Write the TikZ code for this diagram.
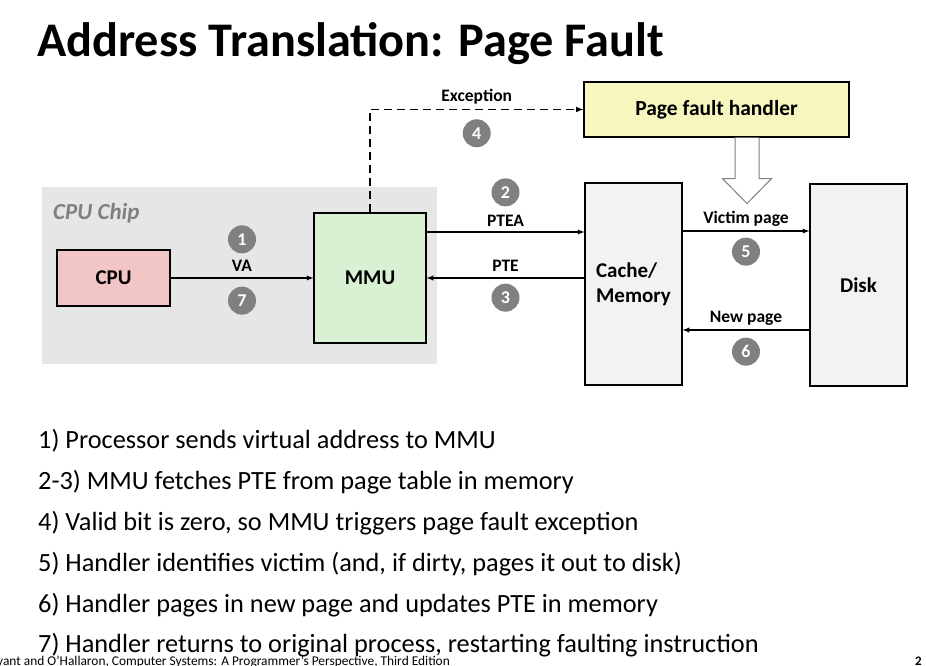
\documentclass[tikz,border=0pt]{standalone}
\usepackage{fontspec}
\setmainfont{Carlito}
\usetikzlibrary{arrows,positioning,shapes}

\definecolor{chipgray}{HTML}{E6E6E6}
\definecolor{cpupink}{HTML}{F2C6C6}
\definecolor{mmugreen}{HTML}{D8F1D2}
\definecolor{memgray}{HTML}{F2F2F2}
\definecolor{handleryellow}{HTML}{F8F6BF}
\definecolor{numgray}{HTML}{808080}

\begin{document}
\begin{tikzpicture}[x=1pt,y=-1pt,
            box/.style={draw,rectangle,line width=1.1pt,inner sep=0pt,align=center,font=\bfseries\fontsize{21}{25}\selectfont},
            lab/.style={inner sep=0pt,text depth=0pt,font=\bfseries\fontsize{17.5}{20}\selectfont},
            num/.style={circle,fill=numgray,text=white,inner sep=0pt,minimum size=28pt,font=\bfseries\fontsize{18}{20}\selectfont},
            item/.style={anchor=base west,inner sep=0pt,font=\fontsize{26.3}{30}\selectfont},
            conn/.style={draw,->,line width=1.3pt,>=latex},
            dashconn/.style={conn,dash pattern=on 8pt off 5pt,line width=1.5pt}
          ]
          \useasboundingbox[fill=white] (0,0) rectangle (926,666);

          %title
          \node[anchor=base west,inner sep=0pt,font=\bfseries\fontsize{48.3}{56}\selectfont] (title) at (37,57) {Address Translation: Page Fault};

          %cpu chip
          \node[rectangle,fill=chipgray,minimum width=395pt,minimum height=177pt] (chip) at (239.5,275.5) {};
          \node[anchor=base west,inner sep=0pt,text=numgray,font=\bfseries\itshape\fontsize{23}{26}\selectfont] (chiplab) at (53,219) {CPU Chip};
          \node[box,fill=cpupink,minimum width=113pt,minimum height=56pt] (cpu) at (113.5,278) {CPU};
          \node[box,fill=mmugreen,minimum width=112pt,minimum height=130pt] (mmu) at (370,278) {MMU};

          %memory, disk, handler
          \node[box,fill=memgray,minimum width=97pt,minimum height=202pt,align=left] (cache) at (633.5,284) {Cache/\\Memory};
          \node[box,fill=memgray,minimum width=97pt,minimum height=202pt] (disk) at (858.5,285) {Disk};
          \node[box,fill=handleryellow,minimum width=265pt,minimum height=55pt,font=\bfseries\fontsize{21.5}{24}\selectfont] (handler) at (716.5,109.5) {Page fault handler};

          %hollow arrow
          \coordinate (flow) at ([xshift=30.5pt]handler.south);
          \draw[numgray,fill=white,line width=1pt,line join=miter] (flow) ++(-12,0) -- ++(0,41) -- ++(-12.5,0) -- ++(24.5,25) -- ++(24.5,-25) -- ++(-12.5,0) -- ++(0,-41);

          %connectors
          \path ([yshift=46pt]mmu.east) coordinate (ptea);
          \path ([yshift=53pt]cache.east) coordinate (victim);
          \path ([yshift=-45pt]disk.west) coordinate (newpage);
          \path
          (cpu) edge[conn] node[lab,above=6pt] (va) {VA}
                           node[num,above=24pt] (n1) {1}
                           node[num,below=8pt] (n7) {7} (mmu)
          (ptea) edge[conn] node[lab,above=5pt] (pteal) {PTEA}
                            node[num,above=25pt] (n2) {2} (ptea -| cache.west)
          (mmu.east -| cache.west) edge[conn] node[lab,above=6pt] (ptel) {PTE}
                                   node[num,below=5pt] (n3) {3} (mmu.east)
          (victim) edge[conn] node[lab,above=7pt] (victiml) {Victim page}
                              node[num,below=6pt] (n5) {5} (victim -| disk.west)
          (newpage) edge[conn] node[lab,above=7pt] (newl) {New page}
                               node[num,below=7pt] (n6) {6} (newpage -| cache.east)
          ;
          \draw[dashconn] (mmu.north) |- node[pos=0.75,lab,above=7pt] (excl) {Exception}
                                         node[pos=0.75,num,below=9pt] (n4) {4} (handler.west);

          %steps
          \node[item] (item1) at (38,448) {1) Processor sends virtual address to MMU};
          \node[item] (item2) at (38,489) {2-3) MMU fetches PTE from page table in memory};
          \node[item] (item3) at (38,530) {4) Valid bit is zero, so MMU triggers page fault exception};
          \node[item] (item4) at (38,571) {5) Handler identifies victim (and, if dirty, pages it out to disk)};
          \node[item] (item5) at (38,612) {6) Handler pages in new page and updates PTE in memory};
          \node[item] (item6) at (38,652) {7) Handler returns to original process, restarting faulting instruction};

          %footer
          \node[anchor=base east,inner sep=0pt,font=\fontsize{13.4}{15}\selectfont] (credit) at (450,665) {Bryant and O’Hallaron, Computer Systems: A Programmer’s Perspective, Third Edition};
          \node[anchor=base west,inner sep=0pt,font=\bfseries\fontsize{13}{15}\selectfont] (page) at (915,665) {2};

      \end{tikzpicture}
\end{document}
